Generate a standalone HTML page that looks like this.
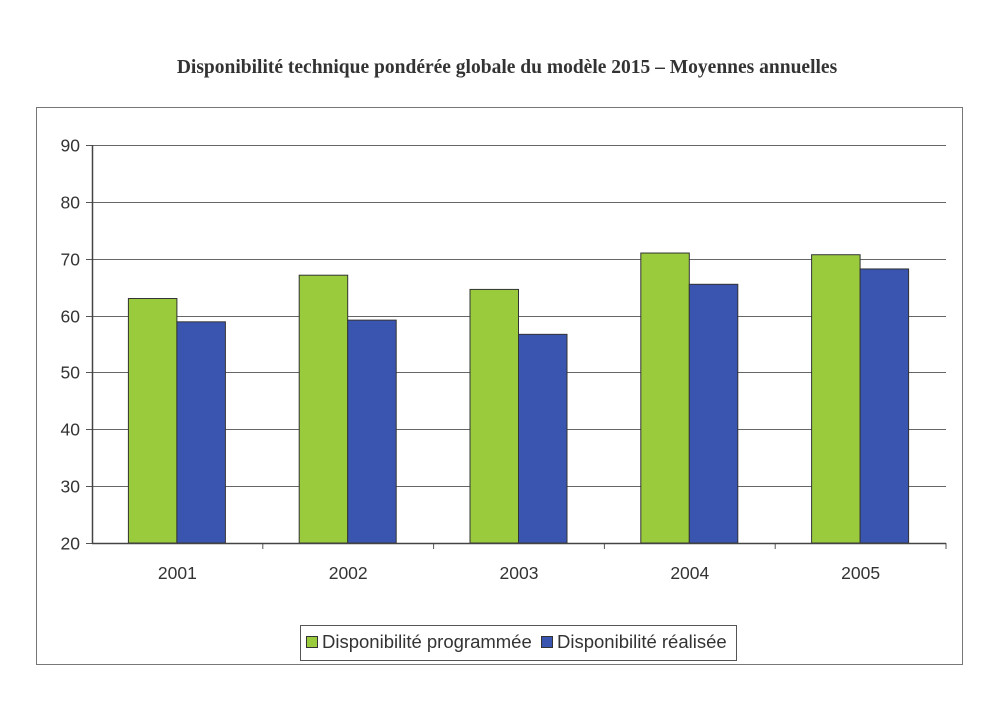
<!DOCTYPE html>
<html><head><meta charset="utf-8"><style>
body{margin:0;background:#fff;width:1000px;height:705px;overflow:hidden}
svg{display:block}
</style></head><body>
<svg id="c" width="1000" height="705" xmlns="http://www.w3.org/2000/svg" font-family="Liberation Sans, sans-serif">
<text x="507" y="73" text-anchor="middle" font-family="Liberation Serif, serif" font-weight="bold" font-size="19.5" fill="#333">Disponibilité technique pondérée globale du modèle 2015 – Moyennes annuelles</text>
<rect x="36.5" y="107.5" width="926" height="557" fill="none" stroke="#777" stroke-width="1"/>
<g id="grid"></g>
<g id="bars"></g>
<g id="axes"></g>
<g>
<rect x="300.5" y="625.5" width="436" height="35" fill="#fff" stroke="#555"/>
<rect x="306.5" y="636.5" width="11" height="11" fill="#9acb3c" stroke="#333"/>
<text x="322" y="648" font-size="18.5" fill="#333">Disponibilité programmée</text>
<rect x="541.5" y="636.5" width="11" height="11" fill="#3a55b0" stroke="#333"/>
<text x="557" y="648" font-size="18.5" fill="#333">Disponibilité réalisée</text>
</g>
</svg>
<script>
const categories=["2001","2002","2003","2004","2005"];
const programmee=[63,67.1,64.6,71,70.7];
const realisee=[58.9,59.2,56.7,65.5,68.2];
const yTicks=[20,30,40,50,60,70,80,90];
const NS="http://www.w3.org/2000/svg";
const L=92,R=946,T=145,B=543,yMin=20,yMax=90;
const y=v=>B-(v-yMin)/(yMax-yMin)*(B-T);
const bw=(R-L)/categories.length;
const x=i=>L+bw*i;
function mk(tag,attrs,parent,txt){const e=document.createElementNS(NS,tag);for(const k in attrs)e.setAttribute(k,attrs[k]);if(txt!==undefined)e.textContent=txt;parent.appendChild(e);return e;}
const grid=document.getElementById('grid'),bars=document.getElementById('bars'),axes=document.getElementById('axes');
yTicks.forEach(t=>{
 const yy=Math.round(y(t))+0.5;
 if(t>yMin){const g=mk('line',{x1:L,x2:R,y1:yy,y2:yy,stroke:'#666','stroke-width':1},grid);
 
 }
 const tk=mk('line',{x1:L-6,x2:L,y1:yy,y2:yy,stroke:'#555'},axes);
 
 
 const lb=mk('text',{x:L-12,y:yy+6,'text-anchor':'end','font-size':17.5,fill:'#333'},axes,String(t));
 
 
});
const barW=48.5;
categories.forEach((c,i)=>{
 const cx=x(i)+bw/2;
 const g=mk('rect',{x:cx-barW-0.5,y:y(programmee[i]),width:barW,height:B-y(programmee[i]),fill:'#9acb3c',stroke:'#333','stroke-width':1},bars);
 
 
 const b=mk('rect',{x:cx-0.5,y:y(realisee[i]),width:barW,height:B-y(realisee[i]),fill:'#3a55b0',stroke:'#333','stroke-width':1},bars);
 
 
 const lb=mk('text',{x:cx,y:B+36,'text-anchor':'middle','font-size':17.5,fill:'#333'},axes,c);
 
 
 const tk=mk('line',{x1:x(i+1),x2:x(i+1),y1:B,y2:B+6,stroke:'#555'},axes);
 
 
});
const ya=mk('line',{x1:L+0.5,x2:L+0.5,y1:T,y2:B,stroke:'#444','stroke-width':1.5},axes);


const xa=mk('line',{x1:L,x2:R,y1:B+0.5,y2:B+0.5,stroke:'#444','stroke-width':1.5},axes);


</script>
</body></html>
